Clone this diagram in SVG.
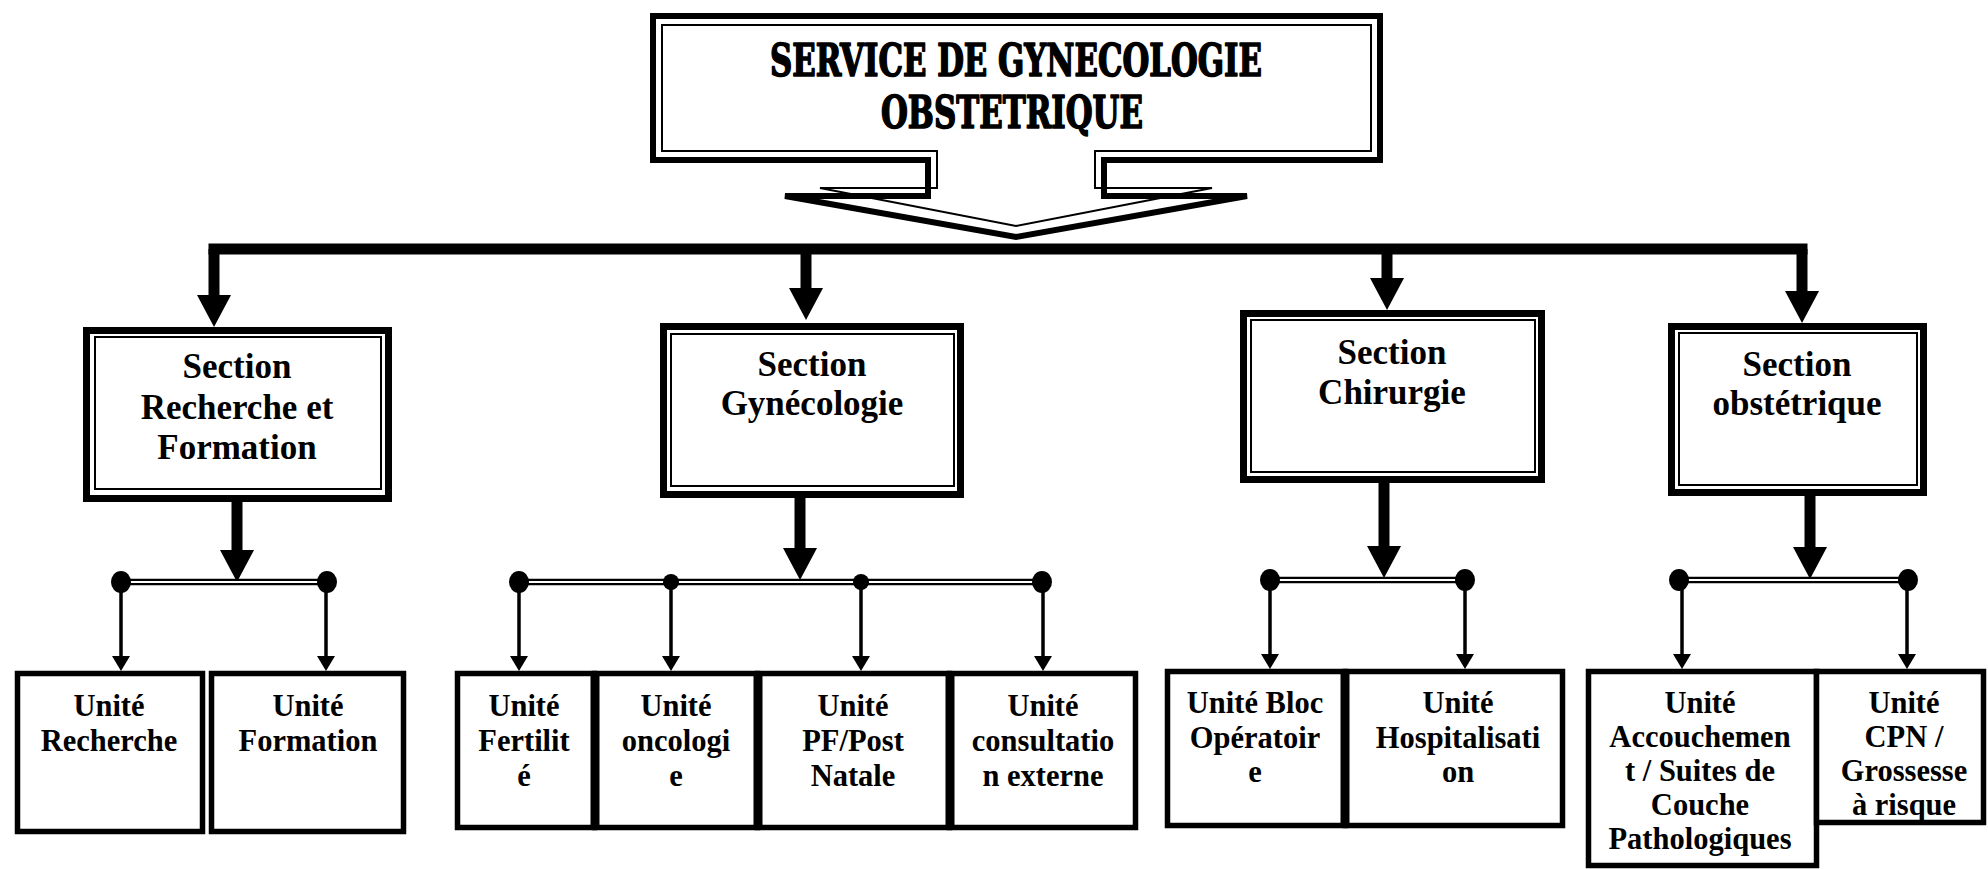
<svg xmlns="http://www.w3.org/2000/svg" width="1988" height="869" viewBox="0 0 1988 869">
<style>
.hdr{font-family:"DejaVu Serif Condensed","DejaVu Serif",serif;font-weight:bold;font-size:45px;text-anchor:middle;fill:#000;stroke:#000;stroke-width:1.6;stroke-linejoin:round}
.sec{font-family:"Liberation Serif","Times New Roman",serif;font-weight:bold;font-size:35px;text-anchor:middle;fill:#000}
.unit{font-family:"Liberation Serif","Times New Roman",serif;font-weight:bold;font-size:30.5px;text-anchor:middle;fill:#000}
.thick{fill:#fff;stroke:#000;stroke-width:7}
.thin{fill:none;stroke:#000;stroke-width:2}
.ubox{fill:#fff;stroke:#000;stroke-width:5.5}
.div{stroke:#000;stroke-width:9}
.bus{fill:none;stroke:#000;stroke-width:11;stroke-linecap:square}
.vin{stroke:#000;stroke-width:11;marker-end:url(#big)}
.sub{fill:none;stroke:#000;stroke-width:6.5}
.subw{fill:none;stroke:#fff;stroke-width:1.8}
.uarr{stroke:#000;stroke-width:3.5;marker-end:url(#small)}
</style>
<defs>
<marker id="big" viewBox="0 0 32 34" markerWidth="32" markerHeight="34" refX="10" refY="17" orient="auto" markerUnits="userSpaceOnUse">
<path d="M0,0 L32,17 L0,34 Z" fill="#000"/>
</marker>
<marker id="small" viewBox="0 0 15 18" markerWidth="15" markerHeight="18" refX="5" refY="9" orient="auto" markerUnits="userSpaceOnUse">
<path d="M0,0 L15,9 L0,18 Z" fill="#000"/>
</marker>
</defs>
<rect width="1988" height="869" fill="#fff"/>

<g id="connectors">
<path class="bus" d="M214,249 H1802"/>
<line class="vin" x1="214" y1="249" x2="214" y2="305"/>
<line class="vin" x1="806" y1="249" x2="806" y2="298"/>
<line class="vin" x1="1387" y1="249" x2="1387" y2="288"/>
<line class="vin" x1="1802" y1="249" x2="1802" y2="301"/>

<line class="vin" x1="237" y1="500" x2="237" y2="560"/>
<line class="vin" x1="800" y1="496" x2="800" y2="558"/>
<line class="vin" x1="1384" y1="481" x2="1384" y2="556"/>
<line class="vin" x1="1810" y1="494" x2="1810" y2="557"/>

<path class="sub" d="M121,582 H327 M519,582 H1042 M1270,580 H1465 M1679,580 H1908"/>
<path class="subw" d="M121,582 H327 M519,582 H1042 M1270,580 H1465 M1679,580 H1908"/>

<line class="uarr" x1="121" y1="582" x2="121" y2="661"/>
<line class="uarr" x1="326" y1="582" x2="326" y2="661"/>
<line class="uarr" x1="519" y1="582" x2="519" y2="661"/>
<line class="uarr" x1="671" y1="582" x2="671" y2="661"/>
<line class="uarr" x1="861" y1="582" x2="861" y2="661"/>
<line class="uarr" x1="1043" y1="582" x2="1043" y2="661"/>
<line class="uarr" x1="1270" y1="580" x2="1270" y2="659"/>
<line class="uarr" x1="1465" y1="580" x2="1465" y2="659"/>
<line class="uarr" x1="1682" y1="580" x2="1682" y2="659"/>
<line class="uarr" x1="1907" y1="580" x2="1907" y2="659"/>

<ellipse cx="121" cy="582" rx="10" ry="11"/>
<ellipse cx="327" cy="582" rx="10" ry="11"/>
<ellipse cx="519" cy="582" rx="10" ry="11"/>
<circle cx="671" cy="582" r="8"/>
<circle cx="861" cy="582" r="8"/>
<ellipse cx="1042" cy="582" rx="10" ry="11"/>
<ellipse cx="1270" cy="580" rx="10" ry="11"/>
<ellipse cx="1465" cy="580" rx="10" ry="11"/>
<ellipse cx="1679" cy="580" rx="10" ry="11"/>
<ellipse cx="1908" cy="580" rx="10" ry="11"/>
</g>

<g id="header">
<path d="M653,16 H1380 V160 H1104 V196 H1247 L1016,237 L785,196 H928 V160 H653 Z" fill="#fff" stroke="#000" stroke-width="6" stroke-linejoin="miter"/>
<path class="thin" d="M662,25 H1371 V151 H1095 V188 H1212 L1016,226 L820,188 H937 V151 H662 Z"/>
<text class="hdr" x="1016" y="76" textLength="492" lengthAdjust="spacingAndGlyphs">SERVICE DE GYNECOLOGIE</text>
<text class="hdr" x="1012" y="128" textLength="262" lengthAdjust="spacingAndGlyphs">OBSTETRIQUE</text>
</g>

<g id="section-recherche">
<rect class="thick" x="86.5" y="330.5" width="302" height="168"/>
<rect class="thin" x="95" y="337" width="286" height="152"/>
<text class="sec" x="237" y="378">Section</text>
<text class="sec" x="237" y="419">Recherche et</text>
<text class="sec" x="237" y="459">Formation</text>
</g>

<g id="section-gynecologie">
<rect class="thick" x="663.5" y="326.5" width="297" height="168"/>
<rect class="thin" x="671" y="334" width="283" height="152"/>
<text class="sec" x="812" y="376">Section</text>
<text class="sec" x="812" y="415">Gynécologie</text>
</g>

<g id="section-chirurgie">
<rect class="thick" x="1243.5" y="313.5" width="298" height="166"/>
<rect class="thin" x="1251" y="320" width="284" height="152"/>
<text class="sec" x="1392" y="364">Section</text>
<text class="sec" x="1392" y="404">Chirurgie</text>
</g>

<g id="section-obstetrique">
<rect class="thick" x="1671.5" y="326.5" width="252" height="166"/>
<rect class="thin" x="1679" y="333" width="238" height="152"/>
<text class="sec" x="1797" y="376">Section</text>
<text class="sec" x="1797" y="415">obstétrique</text>
</g>

<g id="unit-recherche">
<rect class="ubox" x="17.5" y="673.5" width="185" height="158"/>
<text class="unit" x="109" y="716">Unité</text>
<text class="unit" x="109" y="751">Recherche</text>
</g>
<g id="unit-formation">
<rect class="ubox" x="211.5" y="673.5" width="192" height="158"/>
<text class="unit" x="308" y="716">Unité</text>
<text class="unit" x="308" y="751">Formation</text>
</g>

<g id="unit-fertilite">
<rect class="ubox" x="457.5" y="673.5" width="137" height="154"/>
<text class="unit" x="524" y="716">Unité</text>
<text class="unit" x="524" y="751">Fertilit</text>
<text class="unit" x="524" y="786">é</text>
</g>
<g id="unit-oncologie">
<rect class="ubox" x="594.5" y="673.5" width="163" height="154"/>
<text class="unit" x="676" y="716">Unité</text>
<text class="unit" x="676" y="751">oncologi</text>
<text class="unit" x="676" y="786">e</text>
</g>
<g id="unit-pf">
<rect class="ubox" x="757.5" y="673.5" width="192" height="154"/>
<text class="unit" x="853" y="716">Unité</text>
<text class="unit" x="853" y="751">PF/Post</text>
<text class="unit" x="853" y="786">Natale</text>
</g>
<g id="unit-consultation">
<rect class="ubox" x="949.5" y="673.5" width="186" height="154"/>
<text class="unit" x="1043" y="716">Unité</text>
<text class="unit" x="1043" y="751">consultatio</text>
<text class="unit" x="1043" y="786">n externe</text>
</g>
<g id="gyn-dividers">
<line class="div" x1="595" y1="672" x2="595" y2="830"/>
<line class="div" x1="758" y1="672" x2="758" y2="830"/>
<line class="div" x1="950" y1="672" x2="950" y2="830"/>
</g>

<g id="unit-bloc">
<rect class="ubox" x="1167.5" y="671.5" width="178" height="154"/>
<text class="unit" x="1255" y="713">Unité Bloc</text>
<text class="unit" x="1255" y="748">Opératoir</text>
<text class="unit" x="1255" y="782">e</text>
</g>
<g id="unit-hospitalisation">
<rect class="ubox" x="1345.5" y="671.5" width="217" height="154"/>
<text class="unit" x="1458" y="713">Unité</text>
<text class="unit" x="1458" y="748">Hospitalisati</text>
<text class="unit" x="1458" y="782">on</text>
<line class="div" x1="1345" y1="670" x2="1345" y2="828"/>
</g>

<g id="unit-accouchement">
<rect class="ubox" x="1588.5" y="671.5" width="228" height="194"/>
<text class="unit" x="1700" y="713">Unité</text>
<text class="unit" x="1700" y="747">Accouchemen</text>
<text class="unit" x="1700" y="781">t / Suites de</text>
<text class="unit" x="1700" y="815">Couche</text>
<text class="unit" x="1700" y="849">Pathologiques</text>
</g>
<g id="unit-cpn">
<rect class="ubox" x="1816.5" y="671.5" width="167" height="151"/>
<text class="unit" x="1904" y="713">Unité</text>
<text class="unit" x="1904" y="747">CPN /</text>
<text class="unit" x="1904" y="781">Grossesse</text>
<text class="unit" x="1904" y="815">à risque</text>
</g>
</svg>
